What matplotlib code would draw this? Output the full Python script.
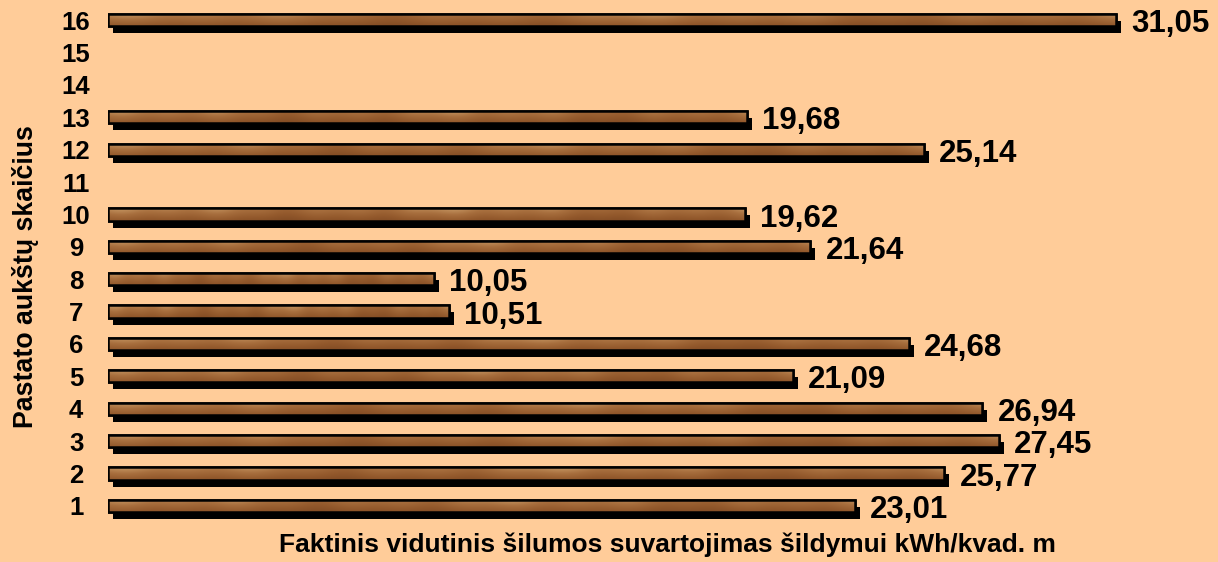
import matplotlib
matplotlib.use("Agg")
import matplotlib.pyplot as plt
import matplotlib.transforms as mtransforms
from matplotlib.colors import LinearSegmentedColormap
import numpy as np

# floors (categories) and heat consumption values
floors = [1, 2, 3, 4, 5, 6, 7, 8, 9, 10, 12, 13, 16]
values = [23.01, 25.77, 27.45, 26.94, 21.09, 24.68, 10.51, 10.05, 21.64, 19.62, 25.14, 19.68, 31.05]
tick_labels = [str(i) for i in range(1, 17)]

plt.rcParams['font.family'] = ['Liberation Sans', 'DejaVu Sans']
plt.rcParams['font.weight'] = 'bold'

bg = '#FFCC99'
fig = plt.figure(figsize=(12.18, 5.62), dpi=100, facecolor=bg)
ax = fig.add_axes([0.0887, 0.0712, 0.9113, 0.9217])
ax.set_facecolor(bg)

bar_h = 0.38

# wood-like texture: lighter top, darker bottom, soft streaks along the bar
xx = np.linspace(0, 1, 600)
yy = np.linspace(0, 1, 9)[:, None]  # 0 = bottom, 1 = top
grain = 0.10 * np.sin(xx * 13 + 0.6) + 0.07 * np.sin(xx * 37 + 1.1) + 0.04 * np.sin(xx * 83)
tex = 0.25 + 0.5 * yy + grain[None, :] * (0.6 + 0.8 * yy)
wood = LinearSegmentedColormap.from_list('wood', ['#7A4520', '#93592C', '#A86F3E', '#C3935F'])

shadow_tr = ax.transData + mtransforms.ScaledTranslation(5 / 100, -7 / 100, fig.dpi_scale_trans)

for f, v in zip(floors, values):
    ax.barh(f, v, height=bar_h, color='black', transform=shadow_tr, zorder=1)
    bars = ax.barh(f, v, height=bar_h, color='#A06838', edgecolor='black', linewidth=1.8, zorder=2)
    im = ax.imshow(tex, cmap=wood, aspect='auto', origin='lower', vmin=0, vmax=1,
                   extent=(0, v, f - bar_h / 2, f + bar_h / 2), interpolation='bilinear', zorder=3)
    im.set_clip_path(bars[0])
    ax.barh(f, v, height=bar_h, fill=False, edgecolor='black', linewidth=1.8, zorder=4)
    ax.annotate(f"{v:.2f}".replace('.', ','), xy=(v, f), xytext=(11, -3), textcoords='offset points',
                va='center', ha='left', fontsize=22.5, fontweight='bold', annotation_clip=False)

ax.set_xlim(0, 34.2)
ax.set_ylim(0.5, 16.5)
ax.set_yticks(range(1, 17))
ax.set_yticklabels(tick_labels, fontsize=18.5, fontweight='bold', ha='center')
ax.tick_params(axis='y', length=0, pad=23)
ax.set_xticks([])
for s in ax.spines.values():
    s.set_visible(False)

fig.text(0.548, 0.03, "Faktinis vidutinis šilumos suvartojimas šildymui kWh/kvad. m",
         ha='center', va='center', fontsize=19, fontweight='bold')
fig.text(0.021, 0.508, "Pastato aukštų skaičius", rotation=90, ha='center', va='center',
         fontsize=19.3, fontweight='bold')

fig.savefig('out.png', dpi=100, facecolor=bg)
